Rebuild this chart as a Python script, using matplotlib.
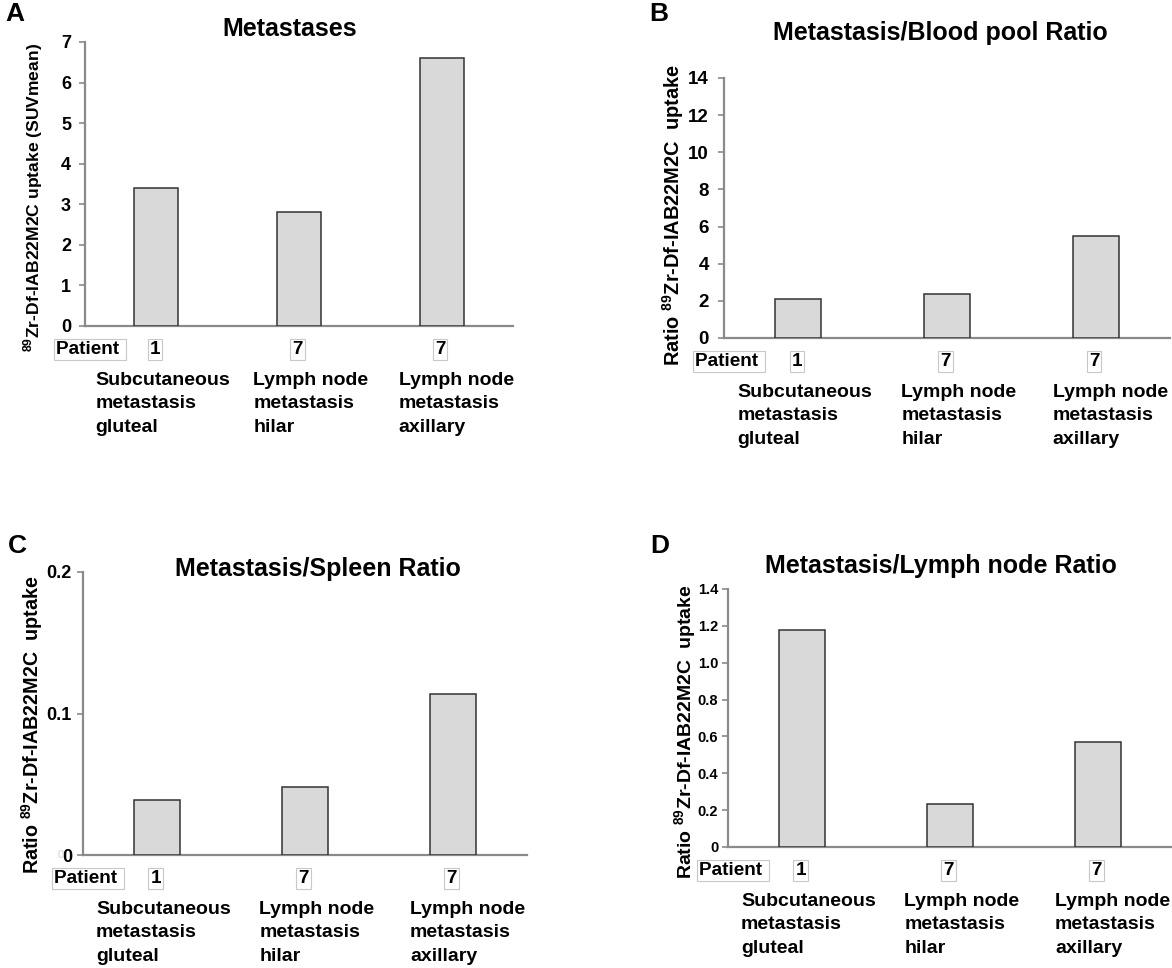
import matplotlib
matplotlib.use("Agg")
import matplotlib.pyplot as plt
import numpy as np

plt.rcParams['font.family'] = ['Liberation Sans', 'DejaVu Sans']
plt.rcParams['font.weight'] = 'bold'
plt.rcParams['mathtext.fontset'] = 'custom'
plt.rcParams['mathtext.rm'] = 'Liberation Sans:bold'
plt.rcParams['mathtext.bf'] = 'Liberation Sans:bold'

# data
patients = ['1', '7', '7']
sites = ['Subcutaneous\nmetastasis\ngluteal',
         'Lymph node\nmetastasis\nhilar',
         'Lymph node\nmetastasis\naxillary']
metastases = [3.4, 2.8, 6.6]
blood_ratio = [2.1, 2.35, 5.5]
spleen_ratio = [0.039, 0.048, 0.114]
lymph_ratio = [1.175, 0.235, 0.57]

titles = ['Metastases', 'Metastasis/Blood pool Ratio',
          'Metastasis/Spleen Ratio', 'Metastasis/Lymph node Ratio']
ylabels = [r'$^{\mathrm{89}}$Zr-Df-IAB22M2C uptake (SUVmean)',
           r'Ratio $^{\mathrm{89}}$Zr-Df-IAB22M2C  uptake',
           r'Ratio $^{\mathrm{89}}$Zr-Df-IAB22M2C  uptake',
           r'Ratio $^{\mathrm{89}}$Zr-Df-IAB22M2C  uptake']
yticks = [[0, 1, 2, 3, 4, 5, 6, 7],
          [0, 2, 4, 6, 8, 10, 12, 14],
          [0, 0.1, 0.2],
          [0, 0.2, 0.4, 0.6, 0.8, 1.0, 1.2, 1.4]]
ytlabels = [None, None, ['0', '0.1', '0.2'],
            ['0', '0.2', '0.4', '0.6', '0.8', '1.0', '1.2', '1.4']]
letters = ['A', 'B', 'C', 'D']

W, H = 1172, 968
fig = plt.figure(figsize=(W/100, H/100), dpi=100)

# layout (pixels)
boxes = [(85, 42, 513, 326), (724, 78, 1170, 338),
         (83, 572, 527, 855), (728, 589, 1172, 847)]
letter_pos = [(5, 14), (649, 14), (8, 546), (650, 546)]
title_pos = [(222, 29), (773, 33), (175, 569), (765, 566)]
ylab_pos = [(33, 197), (673, 215), (32, 725), (686, 732)]
ylab_size = [12.6, 14.4, 14.2, 14.0]
tick_size = [13, 13.5, 13, 10.5]
tick_pad = [6, 7, 4, 3]
cat_off = [-44, -33, -31]   # points
x = np.arange(3)

for k, vals in enumerate([metastases, blood_ratio, spleen_ratio, lymph_ratio]):
    l, t, r, b = boxes[k]
    ax = fig.add_axes([l/W, 1-b/H, (r-l)/W, (b-t)/H])
    ax.bar(x, vals, width=0.31, color='#d9d9d9', edgecolor='#333333', lw=1.1, zorder=3)
    ax.set_xlim(-0.5, 2.5)
    ax.set_ylim(0, yticks[k][-1])
    ax.set_yticks(yticks[k])
    if ytlabels[k]:
        ax.set_yticklabels(ytlabels[k])
    for s in ['top', 'right']:
        ax.spines[s].set_visible(False)
    for s in ['left', 'bottom']:
        ax.spines[s].set_color('#8a8a8a')
        ax.spines[s].set_linewidth(1.6)
    ax.set_xticks([])
    ax.tick_params(axis='y', length=4, width=1.2, color='#8a8a8a',
                   labelsize=tick_size[k], pad=tick_pad[k])
    for lab in ax.get_yticklabels():
        lab.set_fontweight('bold')
    if k == 2:
        # faint leftover zero next to the axis origin
        ax.annotate('0', xy=(0, 0), xycoords='axes fraction', xytext=(-16, 0),
                    textcoords='offset points', ha='center', va='center',
                    fontsize=8, fontweight='normal', color='#d0d0d0')

    ax.annotate('Patient ', xy=(0, 0), xycoords='axes fraction',
                xytext=(-21, -17), textcoords='offset points', ha='left', va='center',
                fontsize=13.6, fontweight='bold',
                bbox=dict(boxstyle='square,pad=0.1', fc='white', ec='#c8c8c8', lw=0.8))
    for i in range(3):
        ax.annotate(patients[i], xy=(x[i], 0), xycoords=('data', 'axes fraction'),
                    xytext=(-1, -17), textcoords='offset points', ha='center', va='center',
                    fontsize=13.6, fontweight='bold',
                    bbox=dict(boxstyle='square,pad=0.1', fc='white', ec='#c8c8c8', lw=0.8))
        ax.annotate(sites[i], xy=(x[i], 0), xycoords=('data', 'axes fraction'),
                    xytext=(cat_off[i], -33), textcoords='offset points', ha='left', va='top',
                    fontsize=14, fontweight='bold', linespacing=1.5)

    fig.text(ylab_pos[k][0]/W, 1-ylab_pos[k][1]/H, ylabels[k], rotation=90,
             ha='center', va='center', fontsize=ylab_size[k], fontweight='bold')
    fig.text(title_pos[k][0]/W, 1-title_pos[k][1]/H, titles[k], ha='left', va='center',
             fontsize=18, fontweight='bold')
    fig.text(letter_pos[k][0]/W, 1-letter_pos[k][1]/H, letters[k], ha='left', va='center',
             fontsize=19, fontweight='bold')

fig.savefig('out.png', dpi=100)
